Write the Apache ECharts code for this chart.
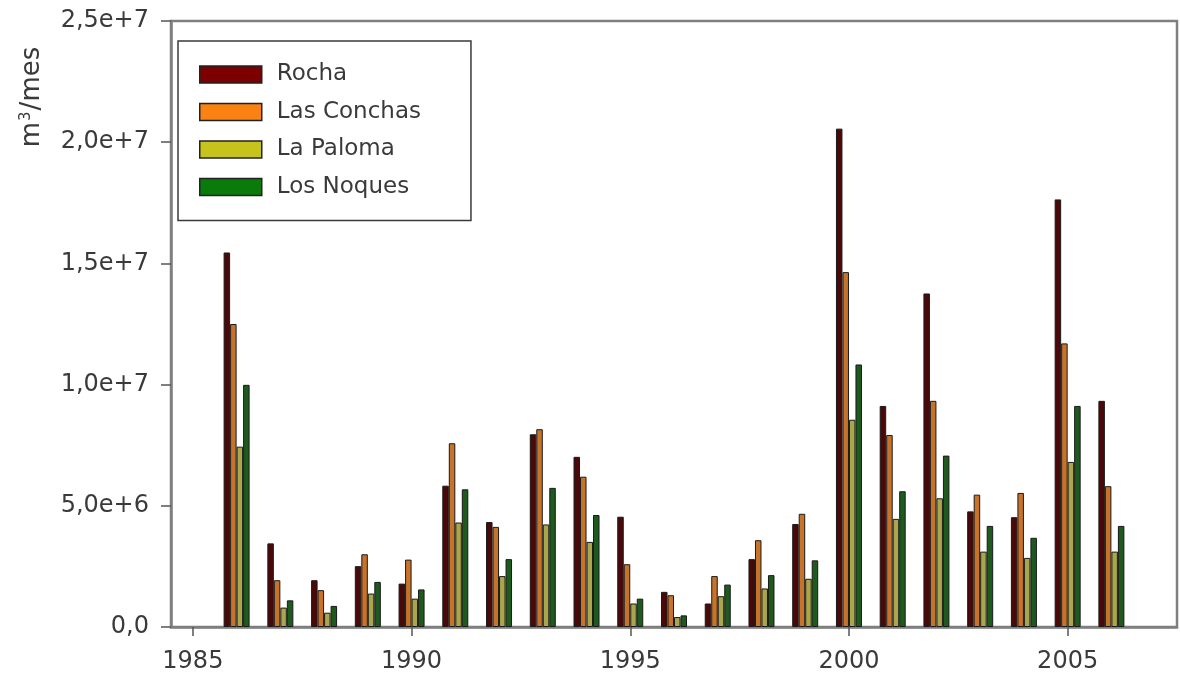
<!DOCTYPE html>
<html>
<head>
<meta charset="utf-8">
<script src="https://cdn.jsdelivr.net/npm/echarts@6/dist/echarts.min.js"></script>
<style>
html,body{margin:0;padding:0;background:#fff;}
#chart{width:1180px;height:677px;}
</style>
</head>
<body>
<div id="chart"></div>
<script>
// Data (m3/mes)
const years = [1986,1987,1988,1989,1990,1991,1992,1993,1994,1995,1996,1997,1998,1999,2000,2001,2002,2003,2004,2005,2006];
const rocha = [15.45e6,3.45e6,1.93e6,2.51e6,1.79e6,5.83e6,4.33e6,7.95e6,7.02e6,4.55e6,1.45e6,0.97e6,2.80e6,4.25e6,20.56e6,9.12e6,13.76e6,4.77e6,4.53e6,17.64e6,9.33e6];
const lasConchas = [12.5e6,1.93e6,1.52e6,3.0e6,2.78e6,7.58e6,4.13e6,8.16e6,6.20e6,2.59e6,1.31e6,2.10e6,3.58e6,4.67e6,14.64e6,7.92e6,9.33e6,5.46e6,5.53e6,11.70e6,5.81e6];
const laPaloma = [7.44e6,0.80e6,0.59e6,1.38e6,1.17e6,4.31e6,2.10e6,4.23e6,3.51e6,0.97e6,0.41e6,1.27e6,1.59e6,1.99e6,8.55e6,4.46e6,5.31e6,3.11e6,2.85e6,6.81e6,3.11e6];
const losNoques = [9.99e6,1.10e6,0.87e6,1.86e6,1.55e6,5.68e6,2.80e6,5.74e6,4.62e6,1.17e6,0.48e6,1.75e6,2.14e6,2.75e6,10.83e6,5.60e6,7.07e6,4.17e6,3.68e6,9.12e6,4.17e6];
const seriesNames = ['Rocha','Las Conchas','La Paloma','Los Noques'];
const legendColors = ['#7d0000','#f98212','#c6c41c','#0a7a0a'];
const barColors = ['#4a0808','#c8732a','#a9a64c','#1e5a1e'];
const xTicks = [1985,1990,1995,2000,2005];
const yTickLabels = ['0,0','5,0e+6','1,0e+7','1,5e+7','2,0e+7','2,5e+7'];

const allValues = [rocha, lasConchas, laPaloma, losNoques];
const FONT = 'DejaVu Sans';
const AXIS = '#7f7f7f';
const TXT = '#3a3a3a';

const chart = echarts.init(document.getElementById('chart'), null, {renderer:'canvas'});
chart.setOption({
  animation:false,
  backgroundColor:'#fff',
  grid:{left:171, right:3, top:21, bottom:50, show:true, borderColor:AXIS, borderWidth:2.5, backgroundColor:'transparent'},
  xAxis:{
    type:'value', min:1984.5, max:2007.5,
    axisLine:{show:true, lineStyle:{color:AXIS, width:2.5}},
    axisTick:{show:true, inside:false, length:9, lineStyle:{color:'#555', width:1.5}, customValues:xTicks},
    axisLabel:{show:true, margin:23, fontFamily:FONT, fontSize:24, color:TXT, customValues:xTicks, formatter:v=>String(v)},
    splitLine:{show:false}
  },
  yAxis:{
    type:'value', min:0, max:25e6, interval:5e6,
    axisLine:{show:true, lineStyle:{color:AXIS, width:2.5}},
    axisTick:{show:true, inside:false, length:10, lineStyle:{color:'#555', width:1.5}},
    axisLabel:{margin:22, fontFamily:FONT, fontSize:24, color:TXT, formatter:(v)=>yTickLabels[Math.round(v/5e6)]},
    splitLine:{show:false}
  },
  legend:{
    left:178, top:41, orient:'vertical', icon:'rect',
    padding:[22,50,22,21],
    itemWidth:62, itemHeight:17, itemGap:14.5,
    backgroundColor:'#fff', borderColor:'#3a3a3a', borderWidth:1.5,
    textStyle:{fontFamily:FONT, fontSize:23, color:TXT, lineHeight:17, padding:[0,0,0,10]},
    data:seriesNames.map((n,i)=>({name:n, itemStyle:{color:legendColors[i], borderColor:'#222', borderWidth:1.5}}))
  },
  graphic:[{
    type:'text', x:32, y:97, rotation:Math.PI/2,
    style:{
      text:'m{sup|3}/mes', font:'26px "DejaVu Sans"', fill:TXT, align:'center', verticalAlign:'middle',
      rich:{sup:{fontSize:15, fontFamily:FONT, verticalAlign:'top', fill:TXT, padding:[0,1,10,1]}}
    }
  }],
  series: seriesNames.map((name,i)=>({
    name:name, type:'bar', barWidth:6.5, barGap:'0%',
    itemStyle:{color:barColors[i], borderColor:'#1a1a1a', borderWidth:1},
    data: years.map((y,j)=>[y, allValues[i][j]])
  }))
});
</script>
</body>
</html>
